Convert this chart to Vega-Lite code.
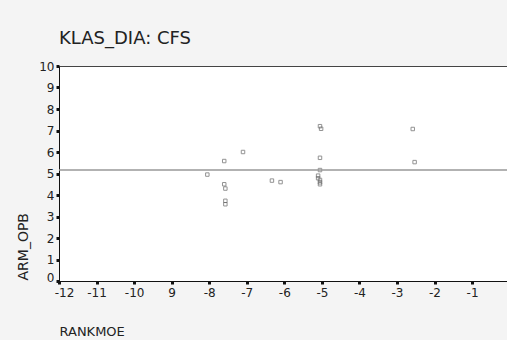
{
  "$schema": "https://vega.github.io/schema/vega-lite/v6.json",
  "width": 448,
  "height": 215,
  "autosize": {"type": "none"},
  "padding": {"left": 59, "top": 66, "right": 0, "bottom": 59},
  "background": "#f4f4f4",
  "title": {
    "text": "KLAS_DIA:  CFS",
    "anchor": "start",
    "frame": "group",
    "font": "DejaVu Sans",
    "fontSize": 18,
    "fontWeight": "normal",
    "color": "#222222",
    "offset": 12
  },
  "config": {
    "view": {"fill": "white", "stroke": "#444444", "strokeWidth": 1},
    "axis": {
      "labelFont": "DejaVu Sans",
      "titleFont": "DejaVu Sans",
      "labelFontSize": 12,
      "titleFontSize": 13,
      "titleFontWeight": "normal",
      "labelColor": "#222222",
      "titleColor": "#222222",
      "domainColor": "#111111",
      "tickColor": "#111111",
      "grid": false,
      "labelOverlap": false,
      "labelFlush": false
    }
  },
  "data": {
    "values": [
      {"RANKMOE": -8.05, "ARM_OPB": 4.95},
      {"RANKMOE": -7.6, "ARM_OPB": 5.58},
      {"RANKMOE": -7.1, "ARM_OPB": 6.0},
      {"RANKMOE": -7.6, "ARM_OPB": 4.5},
      {"RANKMOE": -7.57, "ARM_OPB": 4.3},
      {"RANKMOE": -7.57, "ARM_OPB": 3.73},
      {"RANKMOE": -7.57, "ARM_OPB": 3.57},
      {"RANKMOE": -6.33, "ARM_OPB": 4.67},
      {"RANKMOE": -6.1, "ARM_OPB": 4.6},
      {"RANKMOE": -5.05, "ARM_OPB": 7.2},
      {"RANKMOE": -5.02, "ARM_OPB": 7.08},
      {"RANKMOE": -5.05, "ARM_OPB": 5.73},
      {"RANKMOE": -5.05, "ARM_OPB": 5.16},
      {"RANKMOE": -5.1, "ARM_OPB": 4.9},
      {"RANKMOE": -5.1, "ARM_OPB": 4.78},
      {"RANKMOE": -5.05, "ARM_OPB": 4.7},
      {"RANKMOE": -5.05, "ARM_OPB": 4.59},
      {"RANKMOE": -5.05, "ARM_OPB": 4.5},
      {"RANKMOE": -2.58, "ARM_OPB": 7.07},
      {"RANKMOE": -2.53, "ARM_OPB": 5.53}
    ]
  },
  "layer": [
    {
      "mark": {"type": "point", "shape": "square", "size": 12, "filled": false, "stroke": "#666666", "strokeWidth": 1},
      "encoding": {
        "x": {
          "field": "RANKMOE",
          "type": "quantitative",
          "scale": {"domain": [-12, -0.07], "nice": false, "zero": false},
          "axis": {
            "values": [-12, -11, -10, -9, -8, -7, -6, -5, -4, -3, -2, -1],
            "labelExpr": "datum.value == -9 ? '9' : '-' + abs(datum.value)",
            "labelOffset": {"condition": {"test": "datum.value == -12", "value": 5}, "value": 0},
            "tickSize": 3,
            "tickWidth": 3,
            "labelPadding": 3,
            "title": "RANKMOE",
            "titleAnchor": "start",
            "titleAlign": "left",
            "titleX": 0,
            "titleY": 50,
            "titleBaseline": "middle"
          }
        },
        "y": {
          "field": "ARM_OPB",
          "type": "quantitative",
          "scale": {"domain": [0, 10], "nice": false},
          "axis": {
            "values": [0, 1, 2, 3, 4, 5, 6, 7, 8, 9, 10],
            "tickCount": 11,
            "labelOffset": {"condition": {"test": "datum.value == 0", "value": -4}, "value": 0},
            "tickSize": 3,
            "tickWidth": 3,
            "labelPadding": 2,
            "title": "ARM_OPB",
            "titleFontSize": 14,
            "titleAngle": -90,
            "titleAlign": "left",
            "titleBaseline": "middle",
            "titleX": -36,
            "titleY": 214
          }
        }
      }
    },
    {
      "mark": {"type": "rule", "color": "#999999", "strokeWidth": 1.5},
      "encoding": {
        "y": {
          "aggregate": "mean",
          "field": "ARM_OPB",
          "type": "quantitative",
          "scale": {"domain": [0, 10], "nice": false},
          "axis": {
            "values": [0, 1, 2, 3, 4, 5, 6, 7, 8, 9, 10],
            "tickCount": 11,
            "labelOffset": {"condition": {"test": "datum.value == 0", "value": -4}, "value": 0},
            "tickSize": 3,
            "tickWidth": 3,
            "labelPadding": 2,
            "title": "ARM_OPB",
            "titleFontSize": 14,
            "titleAngle": -90,
            "titleAlign": "left",
            "titleBaseline": "middle",
            "titleX": -36,
            "titleY": 214
          }
        }
      }
    }
  ]
}
